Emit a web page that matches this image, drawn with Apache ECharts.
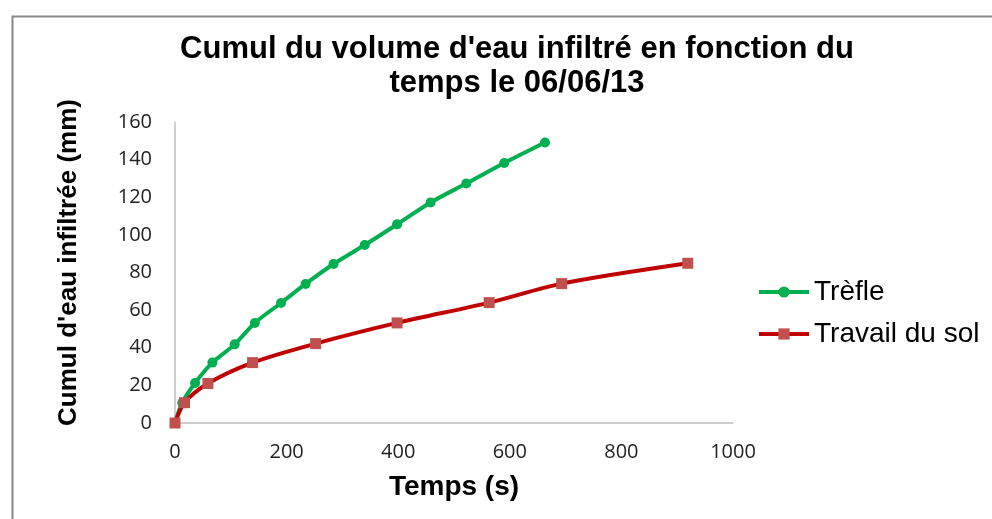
<!DOCTYPE html>
<html>
<head>
<meta charset="utf-8">
<script src="https://cdn.jsdelivr.net/npm/echarts@6/dist/echarts.min.js"></script>
<style>
html,body{margin:0;padding:0;background:#fff;}
#c{width:992px;height:519px;}
</style>
</head>
<body>
<div id="c"></div>
<script>
const trefleTime = [0, 13, 36, 67, 107, 143, 190, 234, 284, 340, 398, 458, 522, 590, 663];
const trefleVal  = [0, 10.8, 21.3, 32.1, 41.8, 53.2, 63.8, 73.9, 84.5, 94.6, 105.6, 117.2, 127.3, 138.2, 149.1];
const solTime = [0, 17, 59, 139, 252, 398, 563, 693, 919];
const solVal  = [0, 10.8, 21, 32.1, 42.2, 53.2, 64, 74.1, 84.9];
const seriesNames = ['Trèfle', 'Travail du sol'];
const titleText = "Cumul du volume d'eau infiltré en fonction du\ntemps le 06/06/13";
const xTitle = 'Temps (s)';
const yTitle = "Cumul d'eau infiltrée (mm)";

const zip = (a, b) => a.map((v, i) => [v, b[i]]);

const chart = echarts.init(document.getElementById('c'));
chart.setOption({
  animation: false,
  backgroundColor: '#fff',
  title: {
    text: titleText,
    left: 512, top: 27, textAlign: 'center',
    textStyle: { fontFamily: 'Liberation Sans', fontWeight: 'bold', fontSize: 31, lineHeight: 34, color: '#000' }
  },
  graphic: [{
    type: 'rect', left: 10, top: 14, z: -1,
    shape: { width: 1000, height: 520 },
    style: { fill: 'none', stroke: '#888', lineWidth: 2 }
  }],
  legend: {
    orient: 'vertical', left: 752, top: 273,
    itemWidth: 50, itemHeight: 14, itemGap: 14,
    lineStyle: { width: 4 },
    textStyle: { fontFamily: 'Liberation Sans', fontSize: 28, color: '#000' },
    data: seriesNames
  },
  grid: { left: 175, right: 992 - 733, top: 122, bottom: 519 - 423, containLabel: false },
  xAxis: {
    type: 'value', min: 0, max: 1000, interval: 200,
    name: xTitle, nameLocation: 'middle', nameGap: 50,
    nameTextStyle: { fontFamily: 'Liberation Sans', fontWeight: 'bold', fontSize: 28, color: '#000' },
    axisLine: { show: true, lineStyle: { color: '#BFBFBF', width: 1.5 } },
    axisTick: { show: false },
    splitLine: { show: false },
    axisLabel: { fontFamily: 'Open Sans', fontSize: 20, color: '#222', margin: 19, formatter: v => String(v) }
  },
  yAxis: {
    type: 'value', min: 0, max: 160, interval: 20,
    name: yTitle, nameLocation: 'middle', nameGap: 93, nameRotate: 90,
    nameTextStyle: { fontFamily: 'Liberation Sans', fontWeight: 'bold', fontSize: 26, color: '#000', padding: [0, 0, 0, 20] },
    axisLine: { show: true, lineStyle: { color: '#BFBFBF', width: 1.5 } },
    axisTick: { show: false },
    splitLine: { show: false },
    axisLabel: { fontFamily: 'Open Sans', fontSize: 20, color: '#222', margin: 23, formatter: v => String(v) }
  },
  series: [
    {
      name: seriesNames[0], type: 'line', data: zip(trefleTime, trefleVal),
      smooth: 0.3, symbol: 'circle', symbolSize: 10,
      lineStyle: { color: '#00B050', width: 4 },
      itemStyle: { color: '#00B050' }, z: 2
    },
    {
      name: seriesNames[1], type: 'line', data: zip(solTime, solVal),
      smooth: 0.3, symbol: 'rect', symbolSize: 11,
      lineStyle: { color: '#C00000', width: 4 },
      itemStyle: { color: '#C0504D' }, z: 3
    }
  ]
});
</script>
</body>
</html>
